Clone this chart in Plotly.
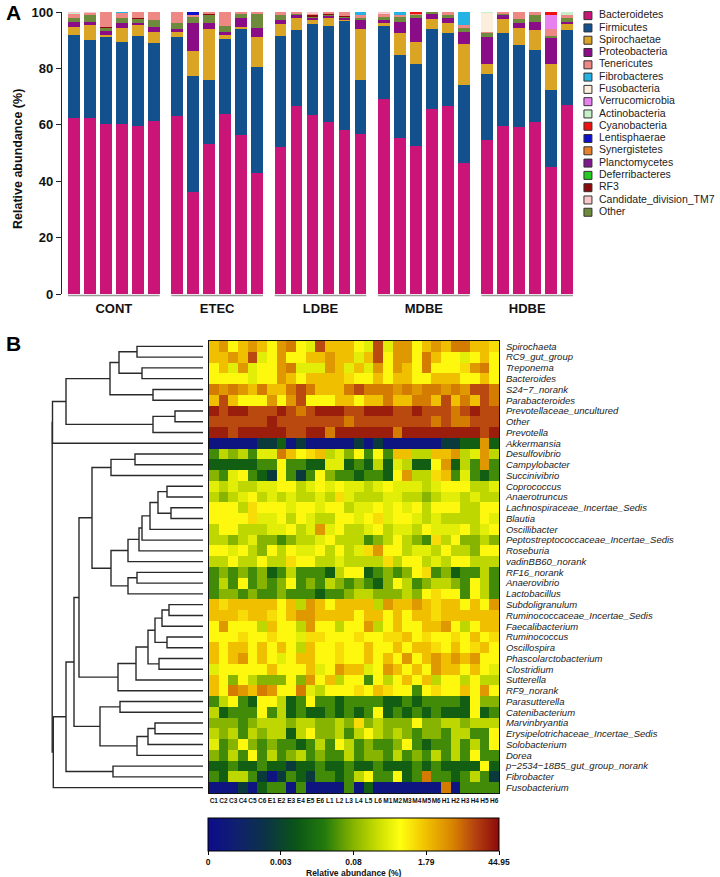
import plotly.graph_objects as go

FONT = "Arial, 'Liberation Sans', sans-serif"
W, H = 720, 877

# ---------------- Panel A data ----------------
groups = ["CONT", "ETEC", "LDBE", "MDBE", "HDBE"]
samples = ["C1", "C2", "C3", "C4", "C5", "C6", "E1", "E2", "E3", "E4", "E5", "E6",
           "L1", "L2", "L3", "L4", "L5", "L6", "M1", "M2", "M3", "M4", "M5", "M6",
           "H1", "H2", "H3", "H4", "H5", "H6"]

bacteroidetes = [62.5, 62.5, 60.2, 60.2, 59.6, 61.3, 63.0, 36.0, 53.2, 64.0, 56.4, 43.0,
                 52.0, 66.8, 63.4, 61.0, 58.2, 56.6, 69.0, 55.3, 52.5, 65.7, 66.8, 46.4,
                 54.6, 59.7, 59.2, 61.0, 45.0, 67.0]
firmicutes = [29.5, 27.5, 30.8, 29.3, 32.0, 27.7, 28.0, 41.2, 22.8, 26.5, 37.6, 37.5,
              39.5, 26.8, 32.4, 34.0, 38.8, 19.4, 26.0, 29.4, 29.1, 28.3, 25.6, 27.8,
              23.4, 32.8, 29.0, 25.5, 27.3, 26.6]
spirochaetae = [2.8, 5.3, 0.8, 4.7, 4.0, 4.0, 2.0, 8.8, 18.0, 1.5, 0.8, 10.5,
                4.1, 4.2, 1.4, 3.2, 0.3, 18.0, 1.0, 7.8, 7.9, 3.5, 3.6, 14.6,
                3.5, 5.1, 6.0, 7.1, 9.4, 2.0]
proteobacteria = [1.8, 1.3, 1.5, 1.8, 0.6, 1.6, 1.0, 10.0, 2.2, 1.0, 3.2, 3.4,
                  1.6, 1.2, 0.8, 0.5, 0.7, 3.0, 1.5, 4.0, 8.2, 2.1, 1.7, 4.0,
                  9.5, 0.9, 1.8, 2.7, 9.3, 0.8]
other = [1.2, 2.5, 1.2, 1.8, 1.5, 2.6, 2.0, 2.5, 2.8, 2.0, 1.5, 5.2,
         1.7, 0.3, 0.4, 0.3, 0.5, 1.0, 0.6, 2.0, 1.3, 0.4, 1.1, 1.7,
         1.7, 0.5, 1.5, 2.5, 0.5, 1.6]
tenericutes = [1.7, 0.6, 5.3, 2.0, 2.0, 2.8, 4.0, 0.5, 0.6, 5.0, 0.5, 0.4,
               1.1, 0.5, 0.6, 0.7, 1.3, 1.0, 1.5, 0.3, 0.3, 0.0, 1.2, 0.8,
               0.3, 0.5, 2.5, 1.2, 2.5, 0.9]
fibrobacteres = [0, 0, 0, 0.2, 0, 0, 0, 0, 0, 0, 0, 0,
                 0, 0, 0, 0, 0, 1.0, 0, 1.2, 0, 0, 0, 4.7,
                 0, 0, 0, 0, 0, 0]
fusobacteria = [0] * 24 + [6.7, 0, 0, 0, 0, 0]
verrucomicrobia = [0] * 24 + [0, 0, 0, 0, 5.0, 0]
actinobacteria = [0.3, 0, 0, 0, 0, 0] + [0] * 18 + [0.3, 0, 0, 0, 0, 1.1]
cyanobacteria = [0] * 20 + [0.7, 0, 0, 0] + [0, 0, 0, 0, 1.0, 0]
lentisphaerae = [0] * 7 + [1.0] + [0] * 22
synergistetes = [0] * 30
planctomycetes = [0] * 25 + [0.5, 0, 0, 0, 0]
deferribacteres = [0] * 30
rf3 = [0, 0, 0.2, 0, 0.3, 0, 0, 0, 0.4, 0, 0, 0,
       0, 0.2, 0.6, 0.3, 0.2, 0, 0, 0, 0, 0, 0, 0,
       0, 0, 0, 0, 0, 0]
tm7 = [0.2, 0.3, 0, 0, 0, 0, 0, 0, 0, 0, 0, 0,
       0, 0, 0.4, 0, 0, 0, 0.4, 0, 0, 0, 0, 0,
       0, 0, 0, 0, 0, 0]

legend_names = ["Bacteroidetes", "Firmicutes", "Spirochaetae", "Proteobacteria",
                "Tenericutes", "Fibrobacteres", "Fusobacteria", "Verrucomicrobia",
                "Actinobacteria", "Cyanobacteria", "Lentisphaerae", "Synergistetes",
                "Planctomycetes", "Deferribacteres", "RF3", "Candidate_division_TM7", "Other"]

series = {
    "Bacteroidetes": bacteroidetes, "Firmicutes": firmicutes, "Spirochaetae": spirochaetae,
    "Proteobacteria": proteobacteria, "Tenericutes": tenericutes, "Fibrobacteres": fibrobacteres,
    "Fusobacteria": fusobacteria, "Verrucomicrobia": verrucomicrobia,
    "Actinobacteria": actinobacteria, "Cyanobacteria": cyanobacteria,
    "Lentisphaerae": lentisphaerae, "Synergistetes": synergistetes,
    "Planctomycetes": planctomycetes, "Deferribacteres": deferribacteres, "RF3": rf3,
    "Candidate_division_TM7": tm7, "Other": other,
}

colors = {
    "Bacteroidetes": "#CB1477", "Firmicutes": "#12508E", "Spirochaetae": "#DAA425",
    "Proteobacteria": "#8A0C86", "Tenericutes": "#EE8884", "Fibrobacteres": "#25B3E5",
    "Fusobacteria": "#FBEEDD", "Verrucomicrobia": "#E880F0", "Actinobacteria": "#C8F0C8",
    "Cyanobacteria": "#EE1111", "Lentisphaerae": "#1010CC", "Synergistetes": "#E8822A",
    "Planctomycetes": "#7E1A8C", "Deferribacteres": "#22CC22", "RF3": "#8B0A0A",
    "Candidate_division_TM7": "#F8C8CC", "Other": "#6E8B3D",
}

stack_order = ["Bacteroidetes", "Firmicutes", "Spirochaetae", "Proteobacteria",
               "Planctomycetes", "Other", "RF3", "Tenericutes", "Fibrobacteres",
               "Fusobacteria", "Verrucomicrobia", "Actinobacteria", "Synergistetes",
               "Deferribacteres", "Candidate_division_TM7", "Lentisphaerae", "Cyanobacteria"]

# ---------------- Panel B data ----------------
row_names = ["Spirochaeta", "RC9_gut_group", "Treponema", "Bacteroides", "S24\u22127_norank",
             "Parabacteroides", "Prevotellaceae_uncultured", "Other", "Prevotella",
             "Akkermansia", "Desulfovibrio", "Campylobacter", "Succinivibrio", "Coprococcus",
             "Anaerotruncus", "Lachnospiraceae_Incertae_Sedis", "Blautia", "Oscillibacter",
             "Peptostreptococcaceae_Incertae_Sedis", "Roseburia", "vadinBB60_norank",
             "RF16_norank", "Anaerovibrio", "Lactobacillus", "Subdoligranulum",
             "Ruminococcaceae_Incertae_Sedis", "Faecalibacterium", "Ruminococcus",
             "Oscillospira", "Phascolarctobacterium", "Clostridium", "Sutterella",
             "RF9_norank", "Parasutterella", "Catenibacterium", "Marvinbryantia",
             "Erysipelotrichaceae_Incertae_Sedis", "Solobacterium", "Dorea",
             "p\u22122534\u221218B5_gut_group_norank", "Fibrobacter", "Fusobacterium"]

# colour reading of every cell (one string per genus, one letter per sample C1..H6)
heat_codes = [
    "OaYOaOYaAYyrOOOYyryaaYOaOAAOOo",
    "OOaOryYaYYOOaOOyOrYaaYAOYYyYOY",
    "YOyayYYaAyyyaOyOyaYaOYAYYYoaAY",
    "YYYYyYYaOYOOOOoYYOYOOYYOOOYYOY",
    "AaAaOAOOArAOOOArAAAaAaAAaAarrA",
    "OrOYYYaYarYYYOOYOOAOOAAOrOAOrA",
    "RrRRrrrRrArRRRrrRRRrrRrrrArRrr",
    "rrrrrrRrrrrrrrArrrrrrrrArAArrr",
    "RRrRRRRRrrRRARRRRRRARRRRRRRRrR",
    "NNNNNTTDNTNNNNNTNTNNNNNNTTDDaD",
    "GlglGyyAOYoOlygYGYGOOllOOalyal",
    "DDDDDGGYGGDDyyDGDlDylDDYaDlGaG",
    "gGyYGDTYGTGYgGGDGGDYalloOGyGDG",
    "ylyllyyYYlyYyYyylyYyyylyYYYlly",
    "lglyYlylyllyloylllyyllglyylyll",
    "YYYloYYYyYYyYYlyyYyYyYlYYYllYY",
    "YYYYoyyYlYyllYYyYoyYYylyllllYy",
    "lYYlllyyYlyayYllyYlyylYyyyYlyY",
    "llglyggGgllyYlllGglYlgGolYgglg",
    "YYyYlgYlYyyYlYlyoaYYlyylYllgYY",
    "llYllYlloYYllyllllolYYlylYYlll",
    "GgGgGgDGlGGGDlYYDGgGgYoGgDGGlG",
    "GlGYGgGgYGgGlgGgGDgYlGgllgGYlG",
    "GggGgGGgGGGDGGgllggglgYoYYGYlG",
    "OoOOOOOYOlaOYOOOOlaOOaOoOOYOYa",
    "OOOoOOoYOaaOOOOYOOYOYOOoOOOOOO",
    "YaYYYlOYYlaYYlYYalYOYYOOaYlYOO",
    "YYYoYYoYYyooYYYoYYooOYoYYoYOYo",
    "OYOOYOYOYlOYYoYYOYYOYOOoYOYoOY",
    "OYOaYOYyYOOYYoYYOYOYaYOaOaOaYY",
    "yYYYYYOYYYOyYaOOyYaOYOYaOOYOYy",
    "OYgYlgggYgaYOlYYGYlYOYOlYYlYll",
    "OYAaOAaYYAylYYYoYOoYYGYoYYOYaY",
    "GlYGDYYlDGYGGDGGGGDDGDGGGGDYgg",
    "lDGGGYGlDGDDGDGDGYDGDGDGDDDYDG",
    "gggGglllgllgglgoglgggYggllglll",
    "lglGlgllDlYgglGlYlglgGggGllGGY",
    "yGgYgGgGGDGlGYlGgGGgYGDGGlGlGY",
    "gGlGYGlGglGgGGlGggGlGgGlGlGYGG",
    "DDGDDGDDTDDGDDGDDGDDDGDGDDDDYD",
    "GDllGTNTGDTGGDGlYGGYDGAGGDGlGT",
    "NNNTNDGGNGNNNNGNDNNNNNNNANGGGG",
]
# colour letter -> position on the colour bar (0 = 0 %, 100 = 44.95 %)
code_level = {"N": 4, "T": 22, "D": 33, "G": 43, "g": 50, "l": 57, "y": 62, "Y": 67,
              "o": 71, "O": 75, "a": 81, "A": 85, "r": 91, "R": 97}

cbar_tickvals = [0, 25, 50, 75, 100]
cbar_ticktext = ["0", "0.003", "0.08", "1.79", "44.95"]

# hierarchical clustering of the rows: (child a, child b, merge height)
linkage = [
    (0, 1, 66), (2, 3, 61), (42, 43, 84), (4, 5, 50), (44, 45, 93), (6, 7, 28),
    (47, 8, 50), (46, 48, 137), (49, 9, 150.5), (10, 11, 68), (51, 12, 92),
    (13, 14, 36), (15, 16, 32), (53, 54, 45), (55, 17, 53), (56, 18, 61),
    (57, 19, 64), (58, 20, 75), (21, 22, 66), (60, 23, 75), (59, 61, 92),
    (52, 62, 111), (24, 25, 34), (64, 26, 41), (27, 28, 36), (65, 66, 48),
    (29, 30, 44), (67, 68, 55), (69, 31, 67), (70, 32, 85), (63, 71, 124),
    (33, 34, 83), (35, 36, 48), (74, 37, 55), (75, 38, 66), (73, 76, 103),
    (72, 77, 129), (39, 40, 90), (78, 79, 137), (80, 41, 149.7), (50, 81, 150.8),
]

# ---------------- build figure ----------------
def px_x(p):
    return p / W

def px_y(p):
    return (H - p) / H

fig = go.Figure()

GROUP_STEP = 6.45
bar_x = [g * GROUP_STEP + j for g in range(len(groups)) for j in range(6)]

for name in stack_order:
    fig.add_trace(go.Bar(
        x=bar_x, y=series[name], name=name, width=0.72,
        marker=dict(color=colors[name], line=dict(width=0)),
        showlegend=False, xaxis="x", yaxis="y",
    ))

# legend drawn as marks on a hidden axis
leg_idx = list(range(len(legend_names)))
fig.add_trace(go.Scatter(
    x=[0.083] * len(legend_names), y=leg_idx, mode="markers",
    marker=dict(symbol="square", size=8, color=[colors[n] for n in legend_names],
                line=dict(width=1, color="#333333")),
    showlegend=False, hoverinfo="skip", xaxis="x4", yaxis="y4",
))
fig.add_trace(go.Scatter(
    x=[0.16] * len(legend_names), y=leg_idx, mode="text", text=legend_names,
    textposition="middle right", textfont=dict(family=FONT, size=10.5, color="#222222"),
    showlegend=False, hoverinfo="skip", xaxis="x4", yaxis="y4", cliponaxis=False,
))

# heatmap
z = [[code_level[c] for c in row] for row in heat_codes]
colorscale = [
    [0.0, "#0c0c8c"], [0.1, "#10206e"], [0.2, "#0b3446"], [0.3, "#0a5418"],
    [0.4, "#237a0c"], [0.5, "#86b400"], [0.58, "#c6dc00"], [0.66, "#ffff10"],
    [0.75, "#f0c000"], [0.84, "#d88400"], [0.92, "#b44010"], [1.0, "#8c0a0a"],
]
fig.add_trace(go.Heatmap(
    z=z, x=list(range(len(samples))), y=list(range(len(row_names))),
    zmin=0, zmax=100, colorscale=colorscale, xaxis="x2", yaxis="y2",
    hoverinfo="skip",
    colorbar=dict(
        orientation="h", x=px_x(353.5), xanchor="center", y=px_y(818), yanchor="top",
        len=291, lenmode="pixels", thickness=33, thicknessmode="pixels",
        tickvals=cbar_tickvals, ticktext=cbar_ticktext, ticks="outside", ticklen=4,
        tickcolor="#000", tickfont=dict(family=FONT, size=8.5, weight="bold", color="#111"),
        outlinecolor="#000", outlinewidth=1, xpad=0, ypad=0,
    ),
))

# dendrogram from the linkage table
n_leaves = len(row_names)
pos = {i: (0.0, float(i)) for i in range(n_leaves)}
dx, dy = [], []
for k, (a, b, h) in enumerate(linkage):
    ha, ya = pos[a]
    hb, yb = pos[b]
    dx += [ha, h, h, hb, None]
    dy += [ya, ya, yb, yb, None]
    pos[n_leaves + k] = (h, (ya + yb) / 2)
fig.add_trace(go.Scatter(
    x=dx, y=dy, mode="lines", line=dict(color="#2a2a2a", width=1.4),
    showlegend=False, hoverinfo="skip", xaxis="x3", yaxis="y2",
))

# group underlines in panel A
shapes = []
for g in range(len(groups)):
    shapes.append(dict(type="line", xref="x", yref="paper",
                       x0=g * GROUP_STEP - 0.36, x1=g * GROUP_STEP + 5.36,
                       y0=px_y(295.5), y1=px_y(295.5),
                       line=dict(color="#9a9a9a", width=1.5)))

fig.update_layout(
    width=W, height=H, margin=dict(l=0, r=0, t=0, b=0, pad=0, autoexpand=False),
    paper_bgcolor="white", plot_bgcolor="white",
    barmode="stack", bargap=0, showlegend=False,
    font=dict(family=FONT, color="#111"),
    shapes=shapes,
    xaxis=dict(domain=[px_x(62), px_x(575)], range=[-0.735, 31.285], anchor="y",
               tickvals=[g * GROUP_STEP + 2.5 for g in range(len(groups))], ticktext=groups,
               ticks="", showline=False, showgrid=False, zeroline=False,
               ticklabelstandoff=5, automargin=False,
               tickfont=dict(family=FONT, size=13, weight="bold", color="#111")),
    yaxis=dict(domain=[px_y(294), px_y(12)], range=[0, 100], anchor="x",
               tickvals=[0, 20, 40, 60, 80, 100], ticks="outside", ticklen=5,
               tickcolor="#222", showline=True, linecolor="#222", linewidth=1.2,
               showgrid=False, zeroline=False, automargin=False,
               tickfont=dict(family=FONT, size=13, weight="bold", color="#111")),
    xaxis4=dict(domain=[px_x(576), 1.0], range=[0, 1], anchor="y4", visible=False),
    yaxis4=dict(domain=[px_y(218.4), px_y(9.5)], range=[16.5, -0.5], anchor="x4",
                visible=False),
    xaxis2=dict(domain=[px_x(209), px_x(499)], range=[-0.5, 29.5], anchor="y2",
                tickvals=list(range(len(samples))), ticktext=samples, ticks="",
                tickangle=0, automargin=False,
                showline=True, mirror=True, linecolor="#111", linewidth=1,
                showgrid=False, zeroline=False, ticklabelstandoff=1,
                tickfont=dict(family=FONT, size=6.5, weight="bold", color="#111")),
    yaxis2=dict(domain=[px_y(793), px_y(341)], range=[41.5, -0.5], anchor="x2",
                side="right", tickvals=list(range(n_leaves)), ticktext=row_names,
                ticks="", showline=True, mirror=True, linecolor="#111", linewidth=1,
                showgrid=False, zeroline=False, ticklabelstandoff=4, automargin=False,
                tickfont=dict(family=FONT, size=9.5, style="italic", color="#222")),
    xaxis3=dict(domain=[0, px_x(203)], range=[203, 0], anchor="y2", visible=False),
    annotations=[
        dict(text="<b>A</b>", x=px_x(4), y=px_y(12), xref="paper", yref="paper",
             xanchor="left", yanchor="middle", showarrow=False,
             font=dict(family=FONT, size=21, color="#000")),
        dict(text="<b>B</b>", x=px_x(4), y=px_y(343), xref="paper", yref="paper",
             xanchor="left", yanchor="middle", showarrow=False,
             font=dict(family=FONT, size=21, color="#000")),
        dict(text="<b>Relative abundance (%)</b>", textangle=-90, x=px_x(18),
             y=px_y(159), xref="paper", yref="paper", xanchor="center", yanchor="middle",
             showarrow=False, font=dict(family=FONT, size=12.5, color="#111")),
        dict(text="<b>Relative abundance (%)</b>", x=px_x(353.5), y=px_y(872.5),
             xref="paper", yref="paper", xanchor="center", yanchor="middle",
             showarrow=False, font=dict(family=FONT, size=8.5, color="#111")),
    ],
)

# the page body has a default 8px margin; remove it so the figure fills the window
fig.write_html("out.html", config={"displayModeBar": False},
               post_script="document.body.style.margin='0';document.body.style.overflow='hidden';")
